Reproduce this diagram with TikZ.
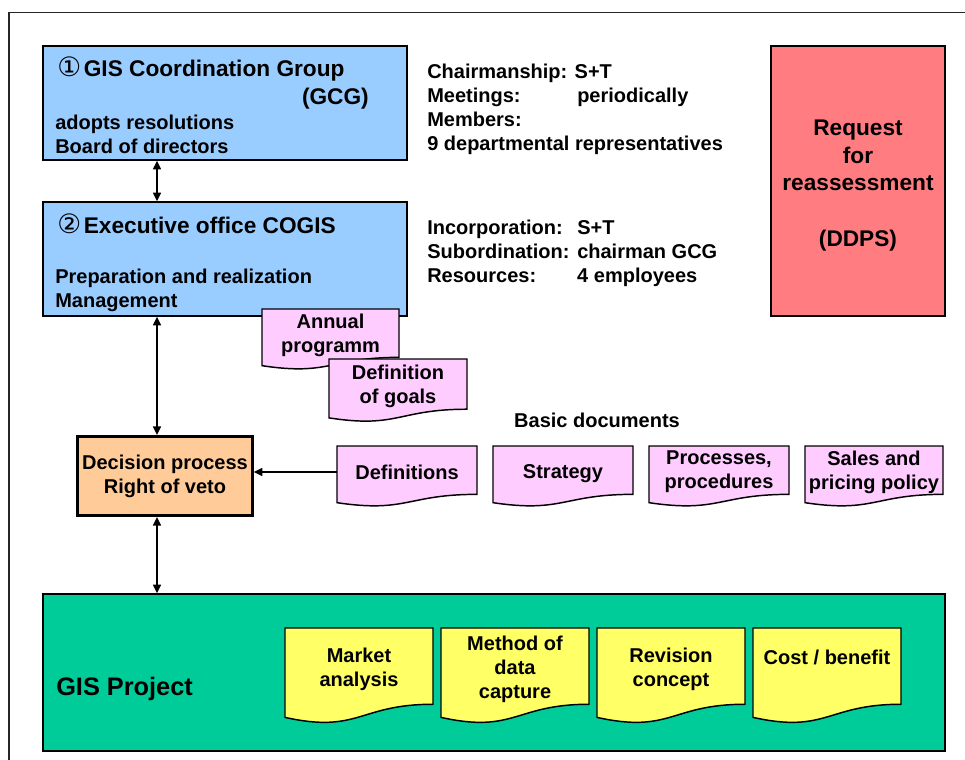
\documentclass[tikz,border=0pt]{standalone}
\usepackage{fontspec}
\setmainfont{Liberation Sans}
\newfontfamily\symfont{DejaVu Sans}
\usetikzlibrary{arrows.meta, positioning, calc}
\definecolor{CoordBlue}{HTML}{99CCFF}
\definecolor{RequestRed}{HTML}{FF7C80}
\definecolor{VetoOrange}{HTML}{FFCC99}
\definecolor{DocPink}{HTML}{FFCCFF}
\definecolor{ProjectGreen}{HTML}{00CC99}
\definecolor{DocYellow}{HTML}{FFFF66}

% document shape: rectangle with a wavy bottom edge
\newdimen\docxl \newdimen\docxr \newdimen\docxm \newdimen\docyt
\newdimen\docyr \newdimen\docyc \newdimen\docyl \newdimen\docn
\makeatletter
\pgfdeclareshape{docshape}{%
  \inheritsavedanchors[from=rectangle]%
  \inheritanchorborder[from=rectangle]%
  \inheritanchor[from=rectangle]{center}%
  \inheritanchor[from=rectangle]{north}%
  \inheritanchor[from=rectangle]{south}%
  \inheritanchor[from=rectangle]{east}%
  \inheritanchor[from=rectangle]{west}%
  \inheritanchor[from=rectangle]{north east}%
  \inheritanchor[from=rectangle]{north west}%
  \inheritanchor[from=rectangle]{south east}%
  \inheritanchor[from=rectangle]{south west}%
  \inheritanchor[from=rectangle]{base}%
  \inheritanchor[from=rectangle]{mid}%
  \backgroundpath{%
    \southwest \docxl=\pgf@x \docyl=\pgf@y
    \northeast \docxr=\pgf@x \docyt=\pgf@y
    \docxm=.5\docxl \advance\docxm by .5\docxr
    \docn=\docyt \advance\docn by -\docyl
    \docyr=-0.93\docn \advance\docyr by \docyt
    \docyc=-1.29\docn \advance\docyc by \docyt
    \docyl=-1.09\docn \advance\docyl by \docyt
    \pgfpathmoveto{\pgfqpoint{\docxl}{\docyt}}%
    \pgfpathlineto{\pgfqpoint{\docxr}{\docyt}}%
    \pgfpathlineto{\pgfqpoint{\docxr}{\docyr}}%
    \pgfpathcurveto{\pgfqpoint{\docxm}{\docyr}}{\pgfqpoint{\docxm}{\docyc}}{\pgfqpoint{\docxl}{\docyl}}%
    \pgfpathclose
  }%
}
\makeatother

\newcommand{\bodyfont}{\bfseries\fontsize{15pt}{18pt}\selectfont}
\newcommand{\headfont}{\bfseries\fontsize{17pt}{20.8pt}\selectfont}
\newcommand{\bigfont}{\bfseries\fontsize{19pt}{22pt}\selectfont}

\tikzset{
  % Box styles
  orgbox/.style={rectangle, draw=black, line width=1.1pt, fill=CoordBlue, minimum width=273pt, minimum height=85.5pt},
  requestbox/.style={rectangle, draw=black, line width=1.1pt, fill=RequestRed, minimum width=130.5pt, minimum height=202.5pt, font=\headfont, align=center},
  vetobox/.style={rectangle, draw=black, line width=2.25pt, fill=VetoOrange, minimum width=128.25pt, minimum height=59.25pt, font=\bodyfont, align=center},
  projectbox/.style={rectangle, draw=black, line width=1.1pt, fill=ProjectGreen, minimum width=676.5pt, minimum height=117.75pt},
  pinkdoc/.style={shape=docshape, draw=black, line width=1.1pt, fill=DocPink, minimum width=105pt, minimum height=39pt, inner sep=0pt, outer sep=0pt, font=\bodyfont, align=center},
  yellowdoc/.style={shape=docshape, draw=black, line width=1.1pt, fill=DocYellow, minimum width=111pt, minimum height=61.5pt, inner sep=0pt, outer sep=0pt, font=\bodyfont, align=center},
  % Text styles (base = last line)
  headtext/.style={anchor=base west, inner sep=0pt, font=\headfont},
  bodytext/.style={anchor=base west, inner sep=0pt, font=\bodyfont, align=left},
  % Arrow styles
  dblarrow/.style={{Triangle[length=6.5pt,width=6pt]}-{Triangle[length=6.5pt,width=6pt]}, line width=1.1pt},
  arrow/.style={-{Triangle[length=6.5pt,width=6pt]}, line width=1.1pt}
}

\begin{document}
\begin{tikzpicture}[x=0.75pt, y=-0.75pt]
  \useasboundingbox (0,0) rectangle (965,760);
  % outer frame
  \draw[line width=1.1pt, black!85] (9,760) -- (9,12.5) -- (965,12.5);

  % Coordination group and executive office
  \node[orgbox] (gcg) at (225,103) {};
  \node[headtext] (gcgtitle) at (57,76) {{\symfont\mdseries\fontsize{20pt}{20pt}\selectfont ①}\hspace{2pt}GIS Coordination Group};
  \node[headtext, anchor=base east] (gcgshort) at (369,104) {(GCG)};
  \node[bodytext] (gcgtasks) at (55,153) {adopts resolutions\\Board of directors};

  \node[orgbox] (cogis) at (225,259) {};
  \node[headtext] (cogistitle) at (57,233) {{\symfont\mdseries\fontsize{20pt}{20pt}\selectfont ②}\hspace{2pt}Executive office COGIS};
  \node[bodytext] (cogistasks) at (55,307) {Preparation and realization\\Management};

  % facts beside the boxes
  \node[bodytext] (gcginfo) at (427,150) {Chairmanship: S+T\\\makebox[112.5pt][l]{Meetings:}periodically\\Members:\\9 departmental representatives};
  \node[bodytext] (cogisinfo) at (427,282) {\makebox[112.5pt][l]{Incorporation:}S+T\\\makebox[112.5pt][l]{Subordination:}chairman GCG\\\makebox[112.5pt][l]{Resources:}4 employees};

  \node[requestbox] (request) at (858,181) {\rule{0pt}{18.5pt}Request\\for\\reassessment\\[20.8pt](DDPS)};

  % documents of the executive office
  \node[pinkdoc, minimum width=102.75pt] (annual) at (330.5,335) {Annual\\programm};
  \node[pinkdoc, minimum width=103.5pt, minimum height=40.5pt] (goals) at (398,386) {Definition\\of goals};

  % decision and basic documents
  \node[vetobox] (decision) at (165,476) {Decision process\\Right of veto};
  \node[font=\bodyfont] (basic) at (597,420) {Basic documents};
  \node[pinkdoc] (defs) at (407,472) {Definitions};
  \node[pinkdoc, text depth=0pt] (strategy) at (563,472) {Strategy};
  \node[pinkdoc] (procs) at (719,472) {Processes,\\procedures};
  \node[pinkdoc, minimum width=103.5pt] (sales) at (874,472) {Sales and\\pricing policy};

  % project
  \node[projectbox] (project) at (494,672.5) {};
  \node[anchor=base west, inner sep=0pt, font=\bigfont] (projtitle) at (56,695) {GIS Project};
  \node[yellowdoc] (market) at (359,669) {Market\\analysis};
  \node[yellowdoc] (capture) at (515,669) {Method of\\data\\capture};
  \node[yellowdoc] (revision) at (671,669) {Revision\\concept};
  \node[yellowdoc] (cost) at (827,669) {Cost / benefit\\\mbox{}};

  % Arrows
  \coordinate (spine) at (157,0);
  \draw[dblarrow] (gcg.south -| spine) -- (cogis.north -| spine);
  \draw[dblarrow] (cogis.south -| spine) -- (decision.north -| spine);
  \draw[dblarrow] (decision.south -| spine) -- (project.north -| spine);
  \draw[arrow] (defs.west) -- (defs.west -| decision.east);
\end{tikzpicture}
\end{document}
